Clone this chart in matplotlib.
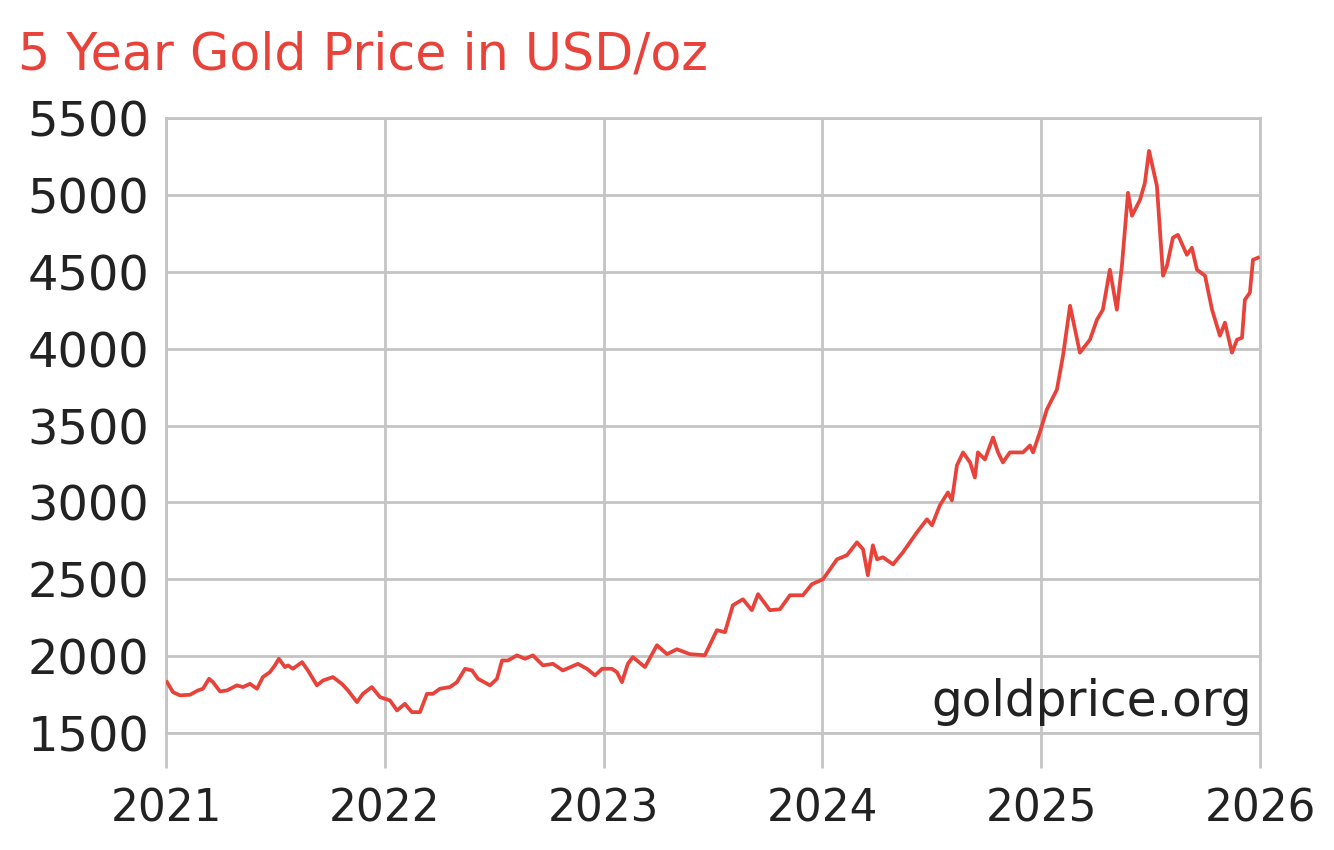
import matplotlib
matplotlib.use("Agg")
import matplotlib.pyplot as plt

# Gold price (USD/oz); x in decimal years
years = [
    2021.005, 2021.032, 2021.064, 2021.110, 2021.146, 2021.169, 2021.197,
    2021.215, 2021.247, 2021.279, 2021.324, 2021.352, 2021.384, 2021.416,
    2021.443, 2021.475, 2021.498, 2021.516, 2021.544, 2021.558, 2021.580,
    2021.622, 2021.649, 2021.690, 2021.718, 2021.763, 2021.804, 2021.832,
    2021.873, 2021.900, 2021.941, 2021.978, 2022.024, 2022.056, 2022.092,
    2022.124, 2022.161, 2022.193, 2022.220, 2022.252, 2022.298, 2022.330,
    2022.367, 2022.399, 2022.426, 2022.481, 2022.513, 2022.536, 2022.563,
    2022.604, 2022.641, 2022.677, 2022.723, 2022.769, 2022.814, 2022.883,
    2022.924, 2022.961, 2022.993, 2023.038, 2023.061, 2023.084, 2023.111,
    2023.134, 2023.189, 2023.244, 2023.290, 2023.335, 2023.395,
    2023.463, 2023.518, 2023.555, 2023.591, 2023.637, 2023.678, 2023.706,
    2023.760, 2023.806, 2023.852, 2023.911, 2023.952, 2024.003, 2024.067,
    2024.112, 2024.158, 2024.186, 2024.208, 2024.231, 2024.250, 2024.277,
    2024.323, 2024.368, 2024.432, 2024.478, 2024.501, 2024.537, 2024.574,
    2024.592, 2024.615, 2024.643, 2024.675, 2024.697, 2024.711, 2024.743,
    2024.780, 2024.803, 2024.825, 2024.857, 2024.917, 2024.949, 2024.963,
    2024.995, 2025.026, 2025.072, 2025.100, 2025.132, 2025.177, 2025.223,
    2025.255, 2025.282, 2025.314, 2025.346, 2025.369, 2025.397, 2025.415,
    2025.452, 2025.474, 2025.493, 2025.529, 2025.557, 2025.575, 2025.602,
    2025.625, 2025.666, 2025.689, 2025.712, 2025.749, 2025.781, 2025.817,
    2025.840, 2025.872, 2025.895, 2025.918, 2025.931, 2025.954, 2025.968,
    2025.991,
]
prices = [
    1831, 1766, 1745, 1749, 1777, 1788, 1853,
    1831, 1771, 1777, 1810, 1799, 1820, 1788,
    1864, 1896, 1940, 1983, 1929, 1940, 1918,
    1961, 1907, 1810, 1842, 1864, 1820, 1777,
    1701, 1755, 1799, 1734, 1712, 1647, 1690,
    1636, 1636, 1755, 1755, 1788, 1799, 1831,
    1918, 1907, 1853, 1810, 1853, 1972, 1972,
    2005, 1983, 2005, 1940, 1950, 1907, 1950,
    1918, 1875, 1918, 1918, 1896, 1831, 1950,
    1994, 1929, 2071, 2013, 2045, 2013,
    2006, 2169, 2156, 2331, 2370, 2299, 2403,
    2299, 2305, 2396, 2396, 2468, 2500, 2630,
    2656, 2740, 2695, 2526, 2721, 2630, 2643,
    2597, 2675, 2805, 2890, 2851, 2981, 3065,
    3013, 3240, 3325, 3260, 3162, 3325, 3279,
    3422, 3325, 3260, 3325, 3325, 3370, 3325,
    3460, 3604, 3734, 3955, 4279, 3974, 4058,
    4188, 4253, 4513, 4253, 4539, 5013, 4864,
    4968, 5078, 5286, 5058, 4474, 4539, 4721,
    4740, 4610, 4656, 4513, 4474, 4253, 4084,
    4169, 3974, 4058, 4071, 4318, 4364, 4578,
    4591,
]
x_ticks = [2021, 2022, 2023, 2024, 2025, 2026]
y_ticks = [1500, 2000, 2500, 3000, 3500, 4000, 4500, 5000, 5500]

RED = "#e8433b"
GRID = "#c4c4c4"
TXT = "#222222"

fig = plt.figure(figsize=(13.34, 8.5), dpi=100)
ax = fig.add_axes([0.1244, 0.1376, 0.8201, 0.7236])

ax.plot(years, prices, color=RED, lw=2.7, zorder=3)

ax.set_xlim(2021, 2026)
ax.set_ylim(1500, 5500)
ax.set_xticks(x_ticks)
ax.set_yticks(y_ticks)
ax.grid(True, color=GRID, lw=2.0, zorder=1)
for s in ax.spines.values():
    s.set_color(GRID)
    s.set_linewidth(2.0)
ax.tick_params(axis="x", length=25, width=2.0, color=GRID, pad=14,
               labelsize=31.5, labelcolor=TXT)
ax.tick_params(axis="y", length=0, pad=12, labelsize=34.5, labelcolor=TXT)

fig.text(0.0135, 0.935, "5 Year Gold Price in USD/oz", color=RED,
         fontsize=36.5, ha="left", va="center")
ax.text(0.993, 0.012, "goldprice.org", transform=ax.transAxes,
        fontsize=35, color=TXT, ha="right", va="bottom", zorder=4)

fig.savefig("out.png", dpi=100)
